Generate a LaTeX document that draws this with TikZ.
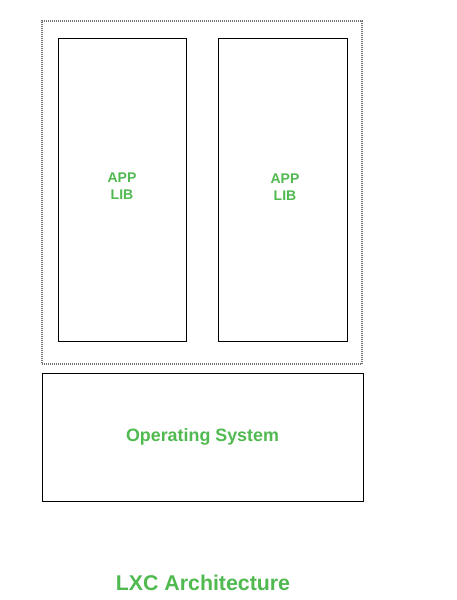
\documentclass[tikz,border=0pt]{standalone}
\usepackage{fontspec}
\setmainfont{Liberation Sans}
\usepackage{tikz}
\usetikzlibrary{positioning,calc}
\definecolor{LxcGreen}{RGB}{80,185,80}
\tikzset{
  appbox/.style={draw=black,line width=0.75pt,minimum width=96pt,minimum height=227.25pt,inner sep=0pt},
  applbl/.style={align=center,inner sep=0pt,font=\bfseries\fontsize{10.5}{12.75}\selectfont,text=LxcGreen},
  cbox/.style={draw=black!55,line width=0.9pt,dash pattern=on 0.75pt off 0.75pt,
    minimum width=240pt,minimum height=257.25pt,inner sep=0pt},
  osbox/.style={draw=black,line width=0.75pt,minimum width=240.75pt,minimum height=96pt,
    inner sep=0pt,font=\bfseries\fontsize{13.4}{16}\selectfont,text=LxcGreen},
  ttl/.style={font=\bfseries\fontsize{16}{19}\selectfont,text=LxcGreen},
}
\begin{document}
\begin{tikzpicture}[x=0.75pt,y=-0.75pt]
\useasboundingbox (0,0) rectangle (457,600);
\node[cbox] (cont) at (202,192.5) {};
\node[appbox] (appa) at (122,189.5) {};
\node[appbox,minimum width=96.75pt] (appb) at (282.5,189.5) {};
\node[applbl] (lbla) at (122,186) {APP\\LIB};
\node[applbl] (lblb) at (285,187) {APP\\LIB};
\node[osbox] (os) at (202.5,437) {Operating System};
\node[ttl] (title) at (203,583) {LXC Architecture};
\end{tikzpicture}
\end{document}
